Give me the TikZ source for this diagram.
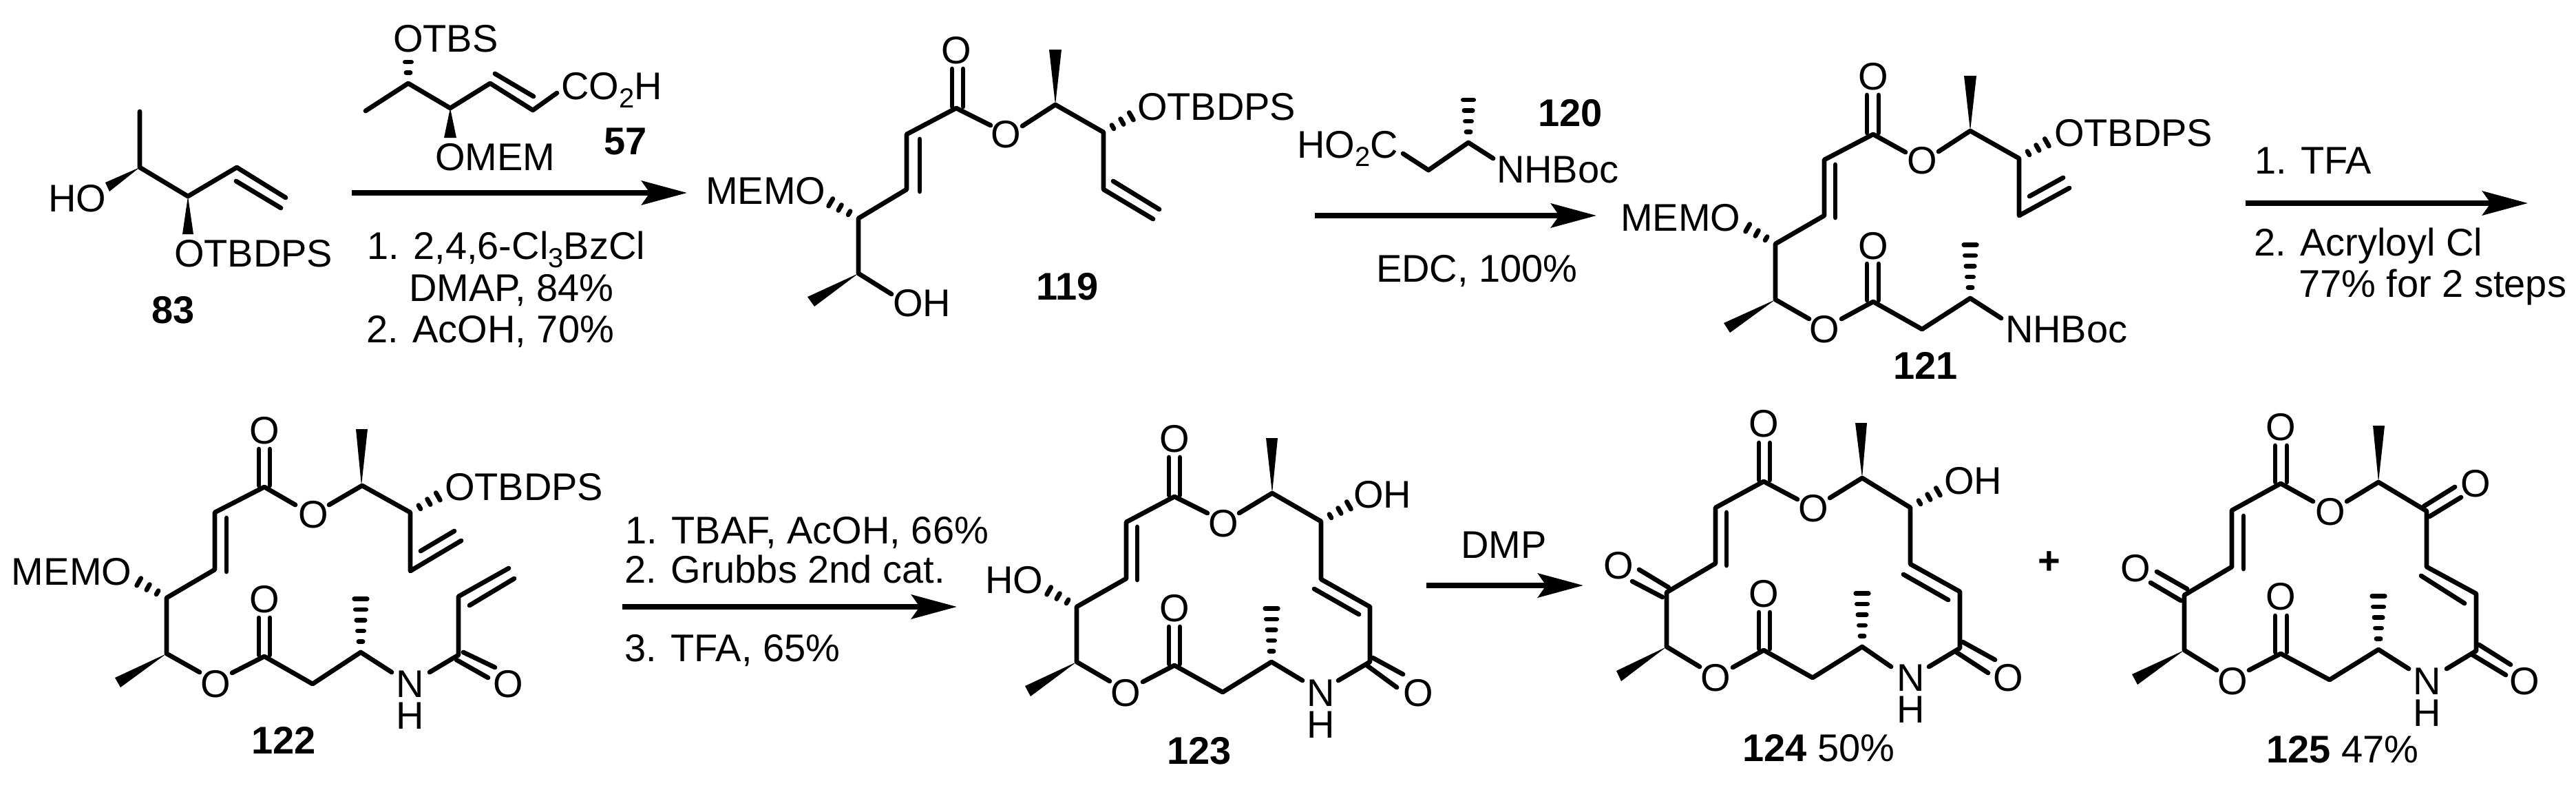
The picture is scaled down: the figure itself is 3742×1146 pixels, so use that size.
\documentclass[tikz,border=0pt]{standalone}
\usepackage{fontspec}
\setmainfont{Liberation Sans}
\usetikzlibrary{arrows.meta}
\newcommand\sbs[1]{\raisebox{-2.4pt}{\fontsize{8}{9}\selectfont #1}}
\newcommand\hashb[5]{%
  \pgfmathsetmacro\hL{veclen(#3-#1,#4-#2)}%
  \pgfmathsetmacro\hux{(#3-#1)/\hL}%
  \pgfmathsetmacro\huy{(#4-#2)/\hL}%
  \foreach \i in {1,...,#5}{%
    \pgfmathsetmacro\hd{\i*15.5}%
    \pgfmathsetmacro\hw{1.5+0.1*\hd}%
    \pgfmathsetmacro\hax{#1+\hux*\hd-\huy*\hw}%
    \pgfmathsetmacro\hay{#2+\huy*\hd+\hux*\hw}%
    \pgfmathsetmacro\hbx{#1+\hux*\hd+\huy*\hw}%
    \pgfmathsetmacro\hby{#2+\huy*\hd-\hux*\hw}%
    \draw[hashline] (\hax,\hay) -- (\hbx,\hby);%
  }%
}
\tikzset{
  x=0.2pt, y=-0.2pt,
  bond/.style={line width=1.35pt, line cap=round, line join=round},
  hashline/.style={line width=1.35pt, line cap=round},
  wedgeb/.style={fill=black},
  lbl/.style={inner sep=0pt, outer sep=0pt, font=\fontsize{11.2}{13}\selectfont},
  nh/.style={inner sep=0pt, outer sep=0pt, align=center, font=\fontsize{11.2}{9.3}\selectfont},
  num/.style={inner sep=0pt, outer sep=0pt, font=\fontsize{11.2}{13}\selectfont\bfseries},
  rxn/.style={line width=1.5pt, -{Stealth[length=13.2pt,width=7pt,inset=2.4pt]}},
}
\begin{document}
\begin{tikzpicture}
\useasboundingbox (0,0) rectangle (3742,1146);
% ---------- 83
\draw[bond] (203,162) -- (203,243) -- (273,285) -- (344,243) -- (415,287);
\draw[bond] (343,263) -- (408,302);
\fill[wedgeb] (203,243) -- (153,265) -- (159,278) -- cycle;
\fill[wedgeb] (273,285) -- (265,340) -- (281,340) -- cycle;
\node[lbl,anchor=base west] (m83ho) at (70,307) {HO};
\node[lbl,anchor=base west] (m83otbdps) at (253,387) {OTBDPS};
\node[num,anchor=base west] (m83n) at (220,469) {83};
% ---------- 57
\draw[bond] (531,161) -- (593,121) -- (654,157) -- (712,121) -- (774,160) -- (809,135);
\draw[bond] (719,107) -- (775,140);
\hashb{593}{121}{593}{70}{2}
\fill[wedgeb] (654,157) -- (645,200) -- (663,200) -- cycle;
\node[lbl,anchor=base west] (m57otbs) at (571,75) {OTBS};
\node[lbl,anchor=base west] (m57omem) at (632,247) {OMEM};
\node[lbl,anchor=base west] (m57co) at (815,144) {CO\sbs{2}H};
\node[num,anchor=base west] (m57n) at (877,224) {57};
% arrow 1
\coordinate (a1s) at (511,280); \coordinate (a1t) at (998,280);
\draw[rxn] (a1s) -- (a1t);
\node[lbl,anchor=base west] (r1a) at (533,376) {1. 2,4,6-Cl\sbs{3}BzCl};
\node[lbl,anchor=base west] (r1b) at (594,437) {DMAP, 84\%};
\node[lbl,anchor=base west] (r1c) at (532,497) {2. AcOH, 70\%};
% ---------- 119
\draw[bond] (1383,100) -- (1383,155);
\draw[bond] (1399,100) -- (1399,155);
\draw[bond] (1439,182) -- (1389,157) -- (1317,195) -- (1317,275) -- (1247,317) -- (1247,397) -- (1295,427);
\draw[bond] (1336,202) -- (1336,278);
\draw[bond] (1485,183) -- (1533,152) -- (1603,192) -- (1603,275) -- (1675,318);
\draw[bond] (1617,263) -- (1684,304);
\fill[wedgeb] (1247,397) -- (1173,431) -- (1183,445) -- cycle;
\fill[wedgeb] (1533,152) -- (1524,72) -- (1542,72) -- cycle;
\hashb{1247}{317}{1200}{290}{3}
\hashb{1603}{192}{1650}{165}{3}
\node[lbl,anchor=base] (m119o1) at (1389,92) {O};
\node[lbl,anchor=base] (m119o2) at (1461,214) {O};
\node[lbl,anchor=base west] (m119memo) at (1025,296) {MEMO};
\node[lbl,anchor=base west] (m119oh) at (1297,459) {OH};
\node[lbl,anchor=base west] (m119otbdps) at (1652,174) {OTBDPS};
\node[num,anchor=base west] (m119n) at (1505,435) {119};
% ---------- 120
\draw[bond] (2038,223) -- (2075,247) -- (2133,207) -- (2169,230);
\hashb{2133}{207}{2133}{140}{4}
\node[lbl,anchor=base west] (m120ho) at (1884,229) {HO\sbs{2}C};
\node[lbl,anchor=base west] (m120nh) at (2174,265) {NHBoc};
\node[num,anchor=base west] (m120n) at (2234,183) {120};
% arrow 2
\coordinate (a2s) at (1910,313); \coordinate (a2t) at (2319,313);
\draw[rxn] (a2s) -- (a2t);
\node[lbl,anchor=base west] (r2a) at (1999,409) {EDC, 100\%};
% ---------- 121
\draw[bond] (2712,138) -- (2712,193);
\draw[bond] (2729,138) -- (2729,193);
\draw[bond] (2768,221) -- (2721,195) -- (2650,232) -- (2650,313) -- (2579,354) -- (2579,435) -- (2628,463);
\draw[bond] (2666,239) -- (2666,316);
\draw[bond] (2675,463) -- (2721,438) -- (2792,478) -- (2862,433) -- (2907,462);
\draw[bond] (2712,383) -- (2712,436);
\draw[bond] (2729,383) -- (2729,436);
\draw[bond] (2816,220) -- (2862,190) -- (2933,230) -- (2933,313) -- (3006,273);
\draw[bond] (2948,285) -- (2997,258);
\fill[wedgeb] (2579,435) -- (2504,469) -- (2513,483) -- cycle;
\fill[wedgeb] (2862,190) -- (2853,110) -- (2871,110) -- cycle;
\hashb{2579}{354}{2532}{327}{3}
\hashb{2933}{230}{2980}{203}{3}
\hashb{2862}{433}{2862}{350}{5}
\node[lbl,anchor=base] (m121o1) at (2721,130) {O};
\node[lbl,anchor=base] (m121o2) at (2792,252) {O};
\node[lbl,anchor=base] (m121o3) at (2721,376) {O};
\node[lbl,anchor=base] (m121o4) at (2650,497) {O};
\node[lbl,anchor=base west] (m121memo) at (2354,335) {MEMO};
\node[lbl,anchor=base west] (m121otbdps) at (2984,212) {OTBDPS};
\node[lbl,anchor=base west] (m121nh) at (2913,497) {NHBoc};
\node[num,anchor=base west] (m121n) at (2750,550) {121};
% arrow 3
\coordinate (a3s) at (3262,295); \coordinate (a3t) at (3672,295);
\draw[rxn] (a3s) -- (a3t);
\node[lbl,anchor=base west] (r3a) at (3275,252) {1. TFA};
\node[lbl,anchor=base west] (r3b) at (3274,371) {2. Acryloyl Cl};
\node[lbl,anchor=base west] (r3c) at (3339,431) {77\% for 2 steps};
% ---------- 122
\draw[bond] (376,652) -- (376,705);
\draw[bond] (392,652) -- (392,705);
\draw[bond] (429,733) -- (384,707) -- (312,744) -- (312,827) -- (242,868) -- (242,949) -- (290,976);
\draw[bond] (329,752) -- (329,830);
\draw[bond] (337,977) -- (384,953) -- (454,993) -- (524,947) -- (569,976);
\draw[bond] (376,897) -- (376,951);
\draw[bond] (392,897) -- (392,951);
\draw[bond] (478,733) -- (526,705) -- (596,744) -- (596,829) -- (670,785);
\draw[bond] (611,800) -- (660,771);
\draw[bond] (624,976) -- (666,951) -- (666,866) -- (739,825);
\draw[bond] (682,879) -- (747,840);
\draw[bond] (673,947) -- (719,969);
\draw[bond] (663,958) -- (709,984);
\fill[wedgeb] (242,949) -- (167,984) -- (175,998) -- cycle;
\fill[wedgeb] (525,705) -- (517,623) -- (534,623) -- cycle;
\hashb{242}{868}{195}{841}{3}
\hashb{596}{744}{643}{717}{3}
\hashb{524}{947}{524}{860}{5}
\node[lbl,anchor=base] (m122o1) at (384,644) {O};
\node[lbl,anchor=base] (m122o2) at (455,766) {O};
\node[lbl,anchor=base] (m122o3) at (384,889) {O};
\node[lbl,anchor=base] (m122o4) at (313,1012) {O};
\node[lbl,anchor=base] (m122o5) at (738,1012) {O};
\node[nh,anchor=center] (m122n1) at (596,1016) {N\\H};
\node[lbl,anchor=base west] (m122memo) at (17,849) {MEMO};
\node[lbl,anchor=base west] (m122otbdps) at (646,726) {OTBDPS};
\node[num,anchor=base west] (m122n) at (365,1094) {122};
% arrow 4
\coordinate (a4s) at (904,881); \coordinate (a4t) at (1390,881);
\draw[rxn] (a4s) -- (a4t);
\node[lbl,anchor=base west] (r4a) at (908,789) {1. TBAF, AcOH, 66\%};
\node[lbl,anchor=base west] (r4b) at (907,846) {2. Grubbs 2nd cat.};
\node[lbl,anchor=base west] (r4c) at (907,960) {3. TFA, 65\%};
% ---------- 123
\draw[bond] (1698,664) -- (1698,719);
\draw[bond] (1714,664) -- (1714,719);
\draw[bond] (1754,745) -- (1706,721) -- (1636,758) -- (1636,840) -- (1564,881) -- (1564,961) -- (1612,989);
\draw[bond] (1652,765) -- (1652,842);
\draw[bond] (1660,990) -- (1706,966) -- (1776,1005) -- (1847,961) -- (1892,988);
\draw[bond] (1698,910) -- (1698,964);
\draw[bond] (1714,910) -- (1714,964);
\draw[bond] (1800,745) -- (1848,716) -- (1919,757) -- (1919,841) -- (1990,881) -- (1990,961) -- (1944,988);
\draw[bond] (1909,855) -- (1974,892);
\draw[bond] (1994,955) -- (2038,979);
\draw[bond] (1984,965) -- (2029,998);
\fill[wedgeb] (1564,961) -- (1489,996) -- (1497,1011) -- cycle;
\fill[wedgeb] (1848,716) -- (1839,636) -- (1856,636) -- cycle;
\hashb{1564}{881}{1517}{854}{3}
\hashb{1919}{757}{1966}{730}{3}
\hashb{1847}{961}{1847}{880}{5}
\node[lbl,anchor=base] (m123o1) at (1706,656) {O};
\node[lbl,anchor=base] (m123o2) at (1777,779) {O};
\node[lbl,anchor=base] (m123o3) at (1706,902) {O};
\node[lbl,anchor=base] (m123o4) at (1635,1025) {O};
\node[lbl,anchor=base] (m123o5) at (2060,1025) {O};
\node[nh,anchor=center] (m123n1) at (1919,1029) {N\\H};
\node[lbl,anchor=base west] (m123ho) at (1431,861) {HO};
\node[lbl,anchor=base west] (m123oh) at (1966,737) {OH};
\node[num,anchor=base west] (m123n) at (1695,1109) {123};
% arrow 5
\coordinate (a5s) at (2072,850); \coordinate (a5t) at (2300,850);
\draw[rxn] (a5s) -- (a5t);
\node[lbl,anchor=base west] (r5a) at (2122,810) {DMP};
% ---------- 124
\draw[bond] (2555,643) -- (2555,697);
\draw[bond] (2571,643) -- (2571,697);
\draw[bond] (2611,725) -- (2562,699) -- (2492,737) -- (2492,818) -- (2421,860) -- (2421,939) -- (2469,968);
\draw[bond] (2508,744) -- (2508,821);
\draw[bond] (2381,827) -- (2424,853);
\draw[bond] (2371,844) -- (2415,867);
\draw[bond] (2517,969) -- (2562,944) -- (2633,984) -- (2705,939) -- (2747,968);
\draw[bond] (2555,889) -- (2555,942);
\draw[bond] (2571,889) -- (2571,942);
\draw[bond] (2658,723) -- (2705,694) -- (2775,737) -- (2775,819) -- (2847,859) -- (2847,941) -- (2802,968);
\draw[bond] (2765,834) -- (2830,871);
\draw[bond] (2851,932) -- (2898,958);
\draw[bond] (2842,947) -- (2888,977);
\fill[wedgeb] (2421,939) -- (2348,974) -- (2355,989) -- cycle;
\fill[wedgeb] (2705,694) -- (2695,614) -- (2712,614) -- cycle;
\hashb{2775}{737}{2822}{710}{3}
\hashb{2705}{939}{2705}{860}{5}
\node[lbl,anchor=base] (m124o1) at (2562,634) {O};
\node[lbl,anchor=base] (m124o2) at (2634,757) {O};
\node[lbl,anchor=base] (m124o3) at (2351,840) {O};
\node[lbl,anchor=base] (m124o4) at (2562,881) {O};
\node[lbl,anchor=base] (m124o5) at (2492,1003) {O};
\node[lbl,anchor=base] (m124o6) at (2917,1003) {O};
\node[nh,anchor=center] (m124n1) at (2776,1007) {N\\H};
\node[lbl,anchor=base west] (m124oh) at (2824,717) {OH};
\node[lbl,anchor=base west] (m124n) at (2531,1105) {\textbf{124} 50\%};
\node[lbl,anchor=base] (plus) at (2977,833) {\textbf{+}};
% ---------- 125
\draw[bond] (3305,647) -- (3305,700);
\draw[bond] (3322,647) -- (3322,700);
\draw[bond] (3360,728) -- (3313,702) -- (3242,741) -- (3242,823) -- (3173,864) -- (3173,944) -- (3220,973);
\draw[bond] (3259,749) -- (3259,826);
\draw[bond] (3133,830) -- (3177,855);
\draw[bond] (3124,846) -- (3168,872);
\draw[bond] (3267,973) -- (3313,949) -- (3384,987) -- (3455,943) -- (3499,971);
\draw[bond] (3305,894) -- (3305,947);
\draw[bond] (3322,894) -- (3322,947);
\draw[bond] (3409,728) -- (3455,700) -- (3525,742) -- (3525,823) -- (3597,862) -- (3597,945) -- (3554,971);
\draw[bond] (3517,836) -- (3580,876);
\draw[bond] (3601,936) -- (3647,965);
\draw[bond] (3592,951) -- (3640,980);
\draw[bond] (3521,735) -- (3566,707);
\draw[bond] (3529,750) -- (3575,722);
\fill[wedgeb] (3173,944) -- (3097,979) -- (3105,994) -- cycle;
\fill[wedgeb] (3455,700) -- (3447,618) -- (3464,618) -- cycle;
\hashb{3455}{943}{3455}{860}{5}
\node[lbl,anchor=base] (m125o1) at (3313,639) {O};
\node[lbl,anchor=base] (m125o2) at (3385,762) {O};
\node[lbl,anchor=base] (m125o3) at (3102,844) {O};
\node[lbl,anchor=base] (m125o4) at (3596,721) {O};
\node[lbl,anchor=base] (m125o5) at (3313,885) {O};
\node[lbl,anchor=base] (m125o6) at (3243,1008) {O};
\node[lbl,anchor=base] (m125o7) at (3667,1008) {O};
\node[nh,anchor=center] (m125n1) at (3526,1012) {N\\H};
\node[lbl,anchor=base west] (m125n) at (3292,1107) {\textbf{125} 47\%};
\end{tikzpicture}
\end{document}
